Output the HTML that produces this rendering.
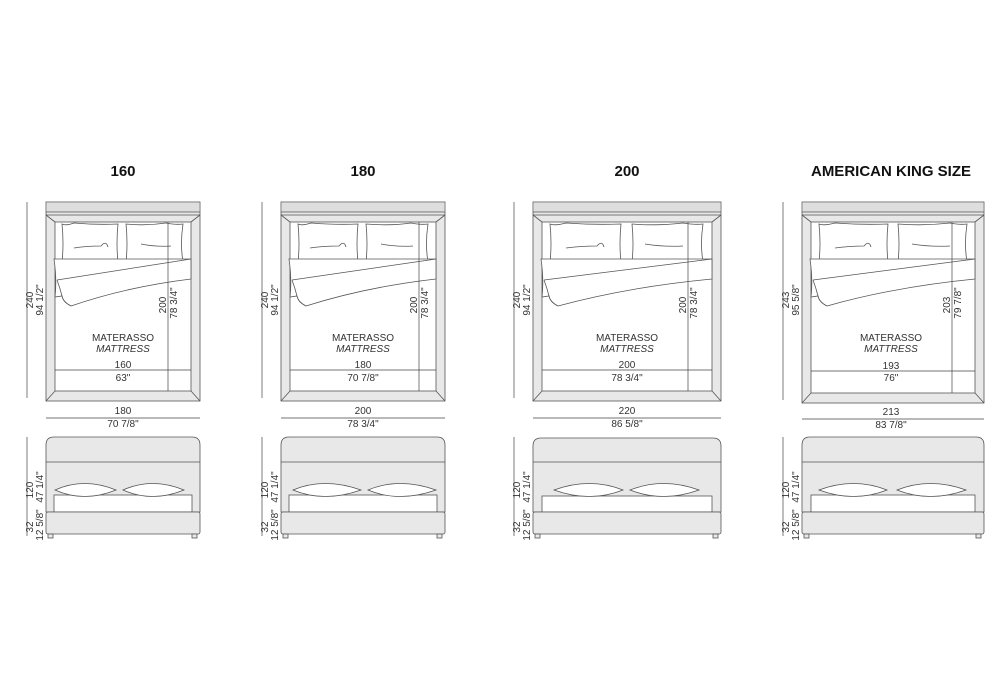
<!DOCTYPE html>
<html><head><meta charset="utf-8"><style>
html,body{margin:0;padding:0;background:#fff;}
svg{display:block;}
text{font-family:"Liberation Sans",sans-serif;fill:#333;font-size:10px;}
.t{font-weight:bold;font-size:15px;fill:#111;}
.s{stroke:#555;stroke-width:0.8;fill:none;}
.f{fill:#e8e8e8;stroke:#555;stroke-width:0.8;}
.w{fill:#fff;stroke:#555;stroke-width:0.8;}
.d{stroke:#444;stroke-width:0.7;fill:none;}
</style></head><body>
<svg width="1000" height="700" viewBox="0 0 1000 700" xmlns="http://www.w3.org/2000/svg">

<!-- BED 1: L=46 W=154 -->
<g transform="translate(46,0)">
<text class="t" x="77" y="176" text-anchor="middle">160</text>
<rect class="f" x="0" y="202" width="154" height="199"/>
<rect x="0.4" y="202.4" width="153.2" height="10" fill="#dedede"/>
<line class="s" x1="0" y1="212" x2="154" y2="212"/>
<line class="s" x1="0" y1="215" x2="154" y2="215"/>
<rect class="w" x="9" y="222" width="136" height="169"/>
<path class="s" d="M0,401 L9,391 M154,401 L145,391 M0,215 L9,222 M154,215 L145,222"/>
<path class="w" d="M16,224 Q20,226 28,223 Q50,225 72,224 Q70,244 72,262 L16,262 Q18,244 16,224Z"/>
<path class="w" d="M80,224 Q100,226 120,223 Q130,225 137,224 Q134,244 137,262 L80,262 Q82,244 80,224Z"/>
<path class="s" d="M28,248 Q40,246 55,246 Q60,240 62,247 M95,244 Q110,247 125,246"/>
<path class="w" d="M8,259 L145,259 L145,279 Q80,287 25,306 Q17,302 16,296 L9,297 Q11,280 8,259Z"/>
<path class="s" d="M11,280 L145,259 M16,296 Q14,288 11,280"/>
<line class="d" x1="9" y1="370" x2="145" y2="370"/>
<line class="d" x1="122" y1="222" x2="122" y2="391"/>
<text x="77" y="341" text-anchor="middle">MATERASSO</text>
<text x="77" y="352" text-anchor="middle" font-style="italic">MATTRESS</text>
<text x="77" y="368" text-anchor="middle">160</text>
<text x="77" y="381" text-anchor="middle">63"</text>
<text transform="translate(120,305) rotate(-90)" text-anchor="middle">200</text>
<text transform="translate(131,303) rotate(-90)" text-anchor="middle">78 3/4"</text>
<line class="d" x1="0" y1="418" x2="154" y2="418"/>
<text x="77" y="414" text-anchor="middle">180</text>
<text x="77" y="427" text-anchor="middle">70 7/8"</text>
<line class="d" x1="-19" y1="202" x2="-19" y2="398"/>
<text transform="translate(-13,300) rotate(-90)" text-anchor="middle">240</text>
<text transform="translate(-3,300) rotate(-90)" text-anchor="middle">94 1/2"</text>
<path class="f" d="M0,512 L0,445 Q0,437 8,437 L146,437 Q154,437 154,445 L154,512Z"/>
<line class="s" x1="0" y1="462" x2="154" y2="462"/>
<rect class="w" x="8" y="495" width="138" height="17"/>
<path class="w" d="M9,490 Q38,477 70,490 Q38,503 9,490Z"/>
<path class="w" d="M77,490 Q106,477 138,490 Q106,503 77,490Z"/>
<rect class="f" x="0" y="512" width="154" height="22" rx="2"/>
<rect class="f" x="2" y="534" width="5" height="4"/>
<rect class="f" x="146" y="534" width="5" height="4"/>
<line class="d" x1="-19" y1="437" x2="-19" y2="536"/>
<text transform="translate(-13,490) rotate(-90)" text-anchor="middle">120</text>
<text transform="translate(-3,487) rotate(-90)" text-anchor="middle">47 1/4"</text>
<text transform="translate(-13,527) rotate(-90)" text-anchor="middle">32</text>
<text transform="translate(-3,525) rotate(-90)" text-anchor="middle">12 5/8"</text>
</g>

<!-- BED 2: L=281 W=164 -->
<g transform="translate(281,0)">
<text class="t" x="82" y="176" text-anchor="middle">180</text>
<rect class="f" x="0" y="202" width="164" height="199"/>
<rect x="0.4" y="202.4" width="163.2" height="10" fill="#dedede"/>
<line class="s" x1="0" y1="212" x2="164" y2="212"/>
<line class="s" x1="0" y1="215" x2="164" y2="215"/>
<rect class="w" x="9" y="222" width="146" height="169"/>
<path class="s" d="M0,401 L9,391 M164,401 L155,391 M0,215 L9,222 M164,215 L155,222"/>
<path class="w" d="M17,224 Q21,226 30,223 Q55,225 77,224 Q75,244 77,262 L17,262 Q19,244 17,224Z"/>
<path class="w" d="M85,224 Q110,226 130,223 Q140,225 147,224 Q144,244 147,262 L85,262 Q87,244 85,224Z"/>
<path class="s" d="M29,248 Q42,246 58,246 Q63,240 65,247 M100,244 Q115,247 132,246"/>
<path class="w" d="M8,259 L155,259 L155,279 Q85,287 25,306 Q17,302 16,296 L9,297 Q11,280 8,259Z"/>
<path class="s" d="M11,280 L155,259 M16,296 Q14,288 11,280"/>
<line class="d" x1="9" y1="370" x2="155" y2="370"/>
<line class="d" x1="138" y1="222" x2="138" y2="391"/>
<text x="82" y="341" text-anchor="middle">MATERASSO</text>
<text x="82" y="352" text-anchor="middle" font-style="italic">MATTRESS</text>
<text x="82" y="368" text-anchor="middle">180</text>
<text x="82" y="381" text-anchor="middle">70 7/8"</text>
<text transform="translate(136,305) rotate(-90)" text-anchor="middle">200</text>
<text transform="translate(147,303) rotate(-90)" text-anchor="middle">78 3/4"</text>
<line class="d" x1="0" y1="418" x2="164" y2="418"/>
<text x="82" y="414" text-anchor="middle">200</text>
<text x="82" y="427" text-anchor="middle">78 3/4"</text>
<line class="d" x1="-19" y1="202" x2="-19" y2="398"/>
<text transform="translate(-13,300) rotate(-90)" text-anchor="middle">240</text>
<text transform="translate(-3,300) rotate(-90)" text-anchor="middle">94 1/2"</text>
<path class="f" d="M0,512 L0,445 Q0,437 8,437 L156,437 Q164,437 164,445 L164,512Z"/>
<line class="s" x1="0" y1="462" x2="164" y2="462"/>
<rect class="w" x="8" y="495" width="148" height="17"/>
<path class="w" d="M12,490 Q43,477 80,490 Q43,503 12,490Z"/>
<path class="w" d="M87,490 Q118,477 155,490 Q118,503 87,490Z"/>
<rect class="f" x="0" y="512" width="164" height="22" rx="2"/>
<rect class="f" x="2" y="534" width="5" height="4"/>
<rect class="f" x="156" y="534" width="5" height="4"/>
<line class="d" x1="-19" y1="437" x2="-19" y2="536"/>
<text transform="translate(-13,490) rotate(-90)" text-anchor="middle">120</text>
<text transform="translate(-3,487) rotate(-90)" text-anchor="middle">47 1/4"</text>
<text transform="translate(-13,527) rotate(-90)" text-anchor="middle">32</text>
<text transform="translate(-3,525) rotate(-90)" text-anchor="middle">12 5/8"</text>
</g>

<!-- BED 3: L=533 W=188 -->
<g transform="translate(533,0)">
<text class="t" x="94" y="176" text-anchor="middle">200</text>
<rect class="f" x="0" y="202" width="188" height="199"/>
<rect x="0.4" y="202.4" width="187.2" height="10" fill="#dedede"/>
<line class="s" x1="0" y1="212" x2="188" y2="212"/>
<line class="s" x1="0" y1="215" x2="188" y2="215"/>
<rect class="w" x="9" y="222" width="170" height="169"/>
<path class="s" d="M0,401 L9,391 M188,401 L179,391 M0,215 L9,222 M188,215 L179,222"/>
<path class="w" d="M17,224 Q22,226 33,223 Q60,225 88,224 Q86,244 88,262 L17,262 Q19,244 17,224Z"/>
<path class="w" d="M99,224 Q125,226 150,223 Q162,225 170,224 Q167,244 170,262 L99,262 Q101,244 99,224Z"/>
<path class="s" d="M33,248 Q48,246 64,246 Q69,240 71,247 M112,244 Q130,247 150,246"/>
<path class="w" d="M8,259 L179,259 L179,279 Q95,287 25,306 Q17,302 16,296 L9,297 Q11,280 8,259Z"/>
<path class="s" d="M11,280 L179,259 M16,296 Q14,288 11,280"/>
<line class="d" x1="9" y1="370" x2="179" y2="370"/>
<line class="d" x1="155" y1="222" x2="155" y2="391"/>
<text x="94" y="341" text-anchor="middle">MATERASSO</text>
<text x="94" y="352" text-anchor="middle" font-style="italic">MATTRESS</text>
<text x="94" y="368" text-anchor="middle">200</text>
<text x="94" y="381" text-anchor="middle">78 3/4"</text>
<text transform="translate(153,305) rotate(-90)" text-anchor="middle">200</text>
<text transform="translate(164,303) rotate(-90)" text-anchor="middle">78 3/4"</text>
<line class="d" x1="0" y1="418" x2="188" y2="418"/>
<text x="94" y="414" text-anchor="middle">220</text>
<text x="94" y="427" text-anchor="middle">86 5/8"</text>
<line class="d" x1="-19" y1="202" x2="-19" y2="398"/>
<text transform="translate(-13,300) rotate(-90)" text-anchor="middle">240</text>
<text transform="translate(-3,300) rotate(-90)" text-anchor="middle">94 1/2"</text>
<path class="f" d="M0,512 L0,446 Q0,438 8,438 L180,438 Q188,438 188,446 L188,512Z"/>
<line class="s" x1="0" y1="462" x2="188" y2="462"/>
<rect class="w" x="9" y="496" width="170" height="16"/>
<path class="w" d="M21,490 Q57,477 90,490 Q57,503 21,490Z"/>
<path class="w" d="M97,490 Q130,477 166,490 Q130,503 97,490Z"/>
<rect class="f" x="0" y="512" width="188" height="22" rx="2"/>
<rect class="f" x="2" y="534" width="5" height="4"/>
<rect class="f" x="180" y="534" width="5" height="4"/>
<line class="d" x1="-19" y1="437" x2="-19" y2="536"/>
<text transform="translate(-13,490) rotate(-90)" text-anchor="middle">120</text>
<text transform="translate(-3,487) rotate(-90)" text-anchor="middle">47 1/4"</text>
<text transform="translate(-13,527) rotate(-90)" text-anchor="middle">32</text>
<text transform="translate(-3,525) rotate(-90)" text-anchor="middle">12 5/8"</text>
</g>

<!-- BED 4: L=802 W=182 -->
<g transform="translate(802,0)">
<text class="t" x="89" y="176" text-anchor="middle">AMERICAN KING SIZE</text>
<rect class="f" x="0" y="202" width="182" height="201"/>
<rect x="0.4" y="202.4" width="181.2" height="10" fill="#dedede"/>
<line class="s" x1="0" y1="212" x2="182" y2="212"/>
<line class="s" x1="0" y1="215" x2="182" y2="215"/>
<rect class="w" x="9" y="222" width="164" height="171"/>
<path class="s" d="M0,403 L9,393 M182,403 L173,393 M0,215 L9,222 M182,215 L173,222"/>
<path class="w" d="M17,224 Q22,226 33,223 Q60,225 86,224 Q84,244 86,262 L17,262 Q19,244 17,224Z"/>
<path class="w" d="M96,224 Q122,226 148,223 Q158,225 165,224 Q162,244 165,262 L96,262 Q98,244 96,224Z"/>
<path class="s" d="M33,248 Q48,246 62,246 Q67,240 69,247 M110,244 Q128,247 148,246"/>
<path class="w" d="M8,259 L173,259 L173,279 Q92,287 25,306 Q17,302 16,296 L9,297 Q11,280 8,259Z"/>
<path class="s" d="M11,280 L173,259 M16,296 Q14,288 11,280"/>
<line class="d" x1="9" y1="371" x2="173" y2="371"/>
<line class="d" x1="150" y1="222" x2="150" y2="393"/>
<text x="89" y="341" text-anchor="middle">MATERASSO</text>
<text x="89" y="352" text-anchor="middle" font-style="italic">MATTRESS</text>
<text x="89" y="369" text-anchor="middle">193</text>
<text x="89" y="381" text-anchor="middle">76"</text>
<text transform="translate(148,305) rotate(-90)" text-anchor="middle">203</text>
<text transform="translate(159,303) rotate(-90)" text-anchor="middle">79 7/8"</text>
<line class="d" x1="0" y1="419" x2="182" y2="419"/>
<text x="89" y="415" text-anchor="middle">213</text>
<text x="89" y="428" text-anchor="middle">83 7/8"</text>
<line class="d" x1="-19" y1="202" x2="-19" y2="400"/>
<text transform="translate(-13,300) rotate(-90)" text-anchor="middle">243</text>
<text transform="translate(-3,300) rotate(-90)" text-anchor="middle">95 5/8"</text>
<path class="f" d="M0,512 L0,445 Q0,437 8,437 L174,437 Q182,437 182,445 L182,512Z"/>
<line class="s" x1="0" y1="462" x2="182" y2="462"/>
<rect class="w" x="9" y="495" width="164" height="17"/>
<path class="w" d="M17,490 Q52,477 85,490 Q52,503 17,490Z"/>
<path class="w" d="M95,490 Q128,477 164,490 Q128,503 95,490Z"/>
<rect class="f" x="0" y="512" width="182" height="22" rx="2"/>
<rect class="f" x="2" y="534" width="5" height="4"/>
<rect class="f" x="174" y="534" width="5" height="4"/>
<line class="d" x1="-19" y1="437" x2="-19" y2="536"/>
<text transform="translate(-13,490) rotate(-90)" text-anchor="middle">120</text>
<text transform="translate(-3,487) rotate(-90)" text-anchor="middle">47 1/4"</text>
<text transform="translate(-13,527) rotate(-90)" text-anchor="middle">32</text>
<text transform="translate(-3,525) rotate(-90)" text-anchor="middle">12 5/8"</text>
</g>
</svg>
</body></html>
